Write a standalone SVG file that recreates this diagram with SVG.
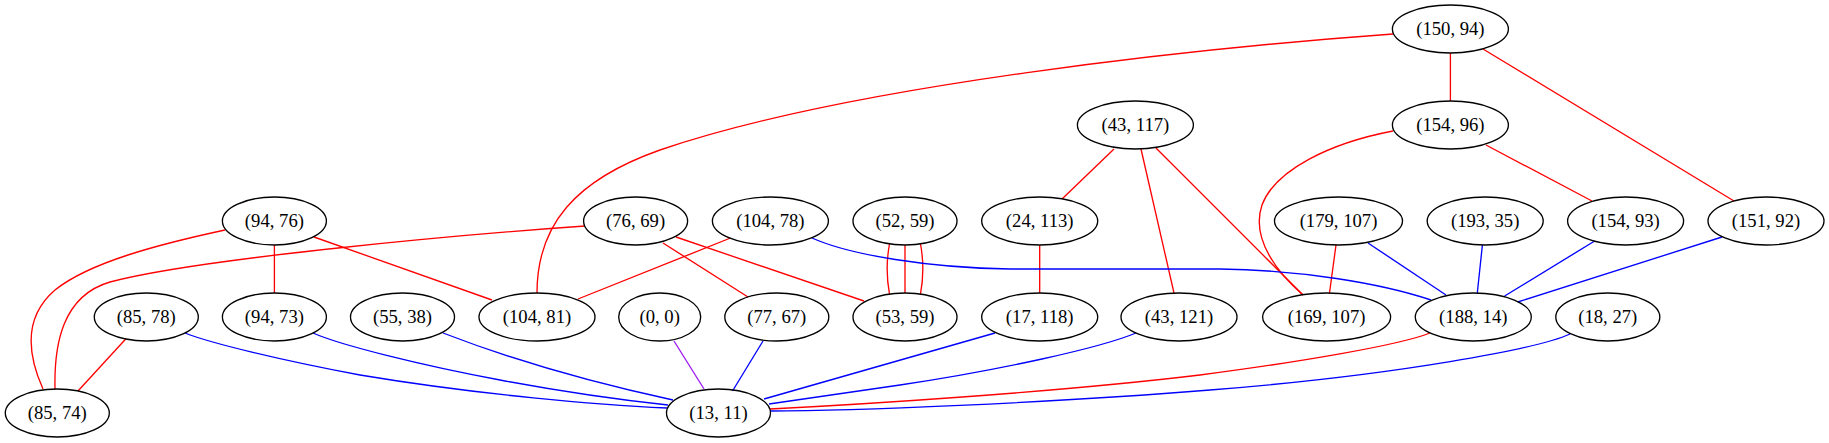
<svg xmlns="http://www.w3.org/2000/svg" width="1829" height="443" viewBox="0 0 1829 443">
<style>
.n ellipse{fill:none;stroke:#000;stroke-width:1.33}
.n text{font-family:"Liberation Serif","Times New Roman",serif;font-size:18.67px;text-anchor:middle;fill:#000}
#edges path{fill:none;stroke-width:1.33}
.r{stroke:#ff0000}
.b{stroke:#0000ff}
.p{stroke:#a020f0}
</style>
<rect width="1829" height="443" fill="#fff"/>
<g id="edges">
<path class="r" d="M1393,34 C1200,48 850,85 660,150 C575,180 537,225 537,293"/>
<path class="r" d="M1450.4,53 L1450.4,101"/>
<path class="r" d="M1483,49 L1734,201"/>
<path class="r" d="M1486,145 L1592,201"/>
<path class="r" d="M1393,131 C1330,143 1275,170 1262,205 C1250,240 1280,275 1303,295"/>
<path class="r" d="M1114,149 L1062,199"/>
<path class="r" d="M1141,149 L1174,293"/>
<path class="r" d="M1156,148 L1303,295"/>
<path class="r" d="M1039.7,245 L1039.7,293"/>
<path class="r" d="M1336,245 L1329.5,293"/>
<path class="r" d="M1430,333 C1400,345 1300,362 1200,375 C1050,393 850,405 770,409"/>
<path class="r" d="M274.4,245 L274.4,293"/>
<path class="r" d="M314,237 L492,300"/>
<path class="r" d="M225,230 C160,244 90,262 55,290 C20,320 30,360 43,389"/>
<path class="r" d="M585,226 C470,234 200,258 110,282 C62,296 54,345 55,389"/>
<path class="r" d="M663,243 L748,297"/>
<path class="r" d="M676,237 L864,301"/>
<path class="r" d="M730.5,238 L578,299"/>
<path class="r" d="M125.7,339 L78,391"/>
<path class="r" d="M889.5,244 C886.5,260 886.5,278 889.5,294"/>
<path class="r" d="M905,245 L905,293"/>
<path class="r" d="M920.5,244 C923.5,260 923.5,278 920.5,294"/>
<path class="b" d="M812,238 C850,255 930,268 1010,269 L1220,269 C1300,270 1380,283 1431,300"/>
<path class="b" d="M1368,243 L1446,295"/>
<path class="b" d="M1482.4,245 L1477.3,293"/>
<path class="b" d="M1594.7,241 L1504.6,296"/>
<path class="b" d="M1722,237 L1517.6,302"/>
<path class="b" d="M1570,334 C1540,348 1400,375 1210,390 C1050,403 850,411 770,411"/>
<path class="b" d="M1136,333 C1100,348 1000,370 900,385 C830,395 790,401 769,404"/>
<path class="b" d="M995,333 L764,399"/>
<path class="b" d="M763,341 L732.5,391"/>
<path class="b" d="M443,333 C500,355 580,380 673,400"/>
<path class="b" d="M313,333 C340,345 420,365 500,380 C580,395 640,402 668,405"/>
<path class="b" d="M185,333 C210,343 280,360 360,375 C480,395 600,405 667,408"/>
<path class="p" d="M674,341 L704,389"/>
</g>
<g id="n150_94" class="n"><ellipse cx="1450.4" cy="29" rx="58" ry="24"/><text x="1450.4" y="35">(150, 94)</text></g>
<g id="n154_96" class="n"><ellipse cx="1450.4" cy="125" rx="58" ry="24"/><text x="1450.4" y="131">(154, 96)</text></g>
<g id="n43_117" class="n"><ellipse cx="1135.4" cy="125" rx="58" ry="24"/><text x="1135.4" y="131">(43, 117)</text></g>
<g id="n94_76" class="n"><ellipse cx="274.4" cy="221" rx="52" ry="24"/><text x="274.4" y="227">(94, 76)</text></g>
<g id="n76_69" class="n"><ellipse cx="635.6" cy="221" rx="52" ry="24"/><text x="635.6" y="227">(76, 69)</text></g>
<g id="n104_78" class="n"><ellipse cx="770.4" cy="221" rx="58" ry="24"/><text x="770.4" y="227">(104, 78)</text></g>
<g id="n52_59" class="n"><ellipse cx="905" cy="221" rx="52" ry="24"/><text x="905" y="227">(52, 59)</text></g>
<g id="n24_113" class="n"><ellipse cx="1039.7" cy="221" rx="58" ry="24"/><text x="1039.7" y="227">(24, 113)</text></g>
<g id="n179_107" class="n"><ellipse cx="1338.5" cy="221" rx="64" ry="24"/><text x="1338.5" y="227">(179, 107)</text></g>
<g id="n193_35" class="n"><ellipse cx="1485.2" cy="221" rx="58" ry="24"/><text x="1485.2" y="227">(193, 35)</text></g>
<g id="n154_93" class="n"><ellipse cx="1625.6" cy="221" rx="58" ry="24"/><text x="1625.6" y="227">(154, 93)</text></g>
<g id="n151_92" class="n"><ellipse cx="1766" cy="221" rx="58" ry="24"/><text x="1766" y="227">(151, 92)</text></g>
<g id="n85_78" class="n"><ellipse cx="146.3" cy="317" rx="52" ry="24"/><text x="146.3" y="323">(85, 78)</text></g>
<g id="n94_73" class="n"><ellipse cx="274.4" cy="317" rx="52" ry="24"/><text x="274.4" y="323">(94, 73)</text></g>
<g id="n55_38" class="n"><ellipse cx="402.5" cy="317" rx="52" ry="24"/><text x="402.5" y="323">(55, 38)</text></g>
<g id="n104_81" class="n"><ellipse cx="537" cy="317" rx="58" ry="24"/><text x="537" y="323">(104, 81)</text></g>
<g id="n0_0" class="n"><ellipse cx="659.7" cy="317" rx="41" ry="24"/><text x="659.7" y="323">(0, 0)</text></g>
<g id="n77_67" class="n"><ellipse cx="776.8" cy="317" rx="52" ry="24"/><text x="776.8" y="323">(77, 67)</text></g>
<g id="n53_59" class="n"><ellipse cx="905" cy="317" rx="52" ry="24"/><text x="905" y="323">(53, 59)</text></g>
<g id="n17_118" class="n"><ellipse cx="1039.7" cy="317" rx="58" ry="24"/><text x="1039.7" y="323">(17, 118)</text></g>
<g id="n43_121" class="n"><ellipse cx="1179" cy="317" rx="58" ry="24"/><text x="1179" y="323">(43, 121)</text></g>
<g id="n169_107" class="n"><ellipse cx="1326.6" cy="317" rx="64" ry="24"/><text x="1326.6" y="323">(169, 107)</text></g>
<g id="n188_14" class="n"><ellipse cx="1473.3" cy="317" rx="58" ry="24"/><text x="1473.3" y="323">(188, 14)</text></g>
<g id="n18_27" class="n"><ellipse cx="1607.8" cy="317" rx="52" ry="24"/><text x="1607.8" y="323">(18, 27)</text></g>
<g id="n85_74" class="n"><ellipse cx="57.3" cy="413" rx="52" ry="24"/><text x="57.3" y="419">(85, 74)</text></g>
<g id="n13_11" class="n"><ellipse cx="718.5" cy="413" rx="52" ry="24"/><text x="718.5" y="419">(13, 11)</text></g>
</svg>
